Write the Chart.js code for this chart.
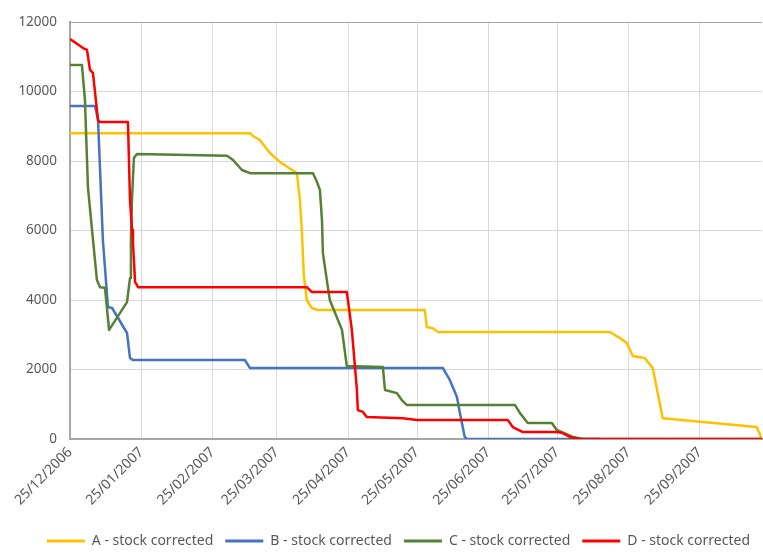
<!DOCTYPE html>
<html>
<head>
<meta charset="utf-8">
<script src="https://cdn.jsdelivr.net/npm/chart.js@4"></script>
<style>
  html, body { margin: 0; padding: 0; background: #ffffff; }
  #wrap { width: 763px; height: 552px; }
</style>
</head>
<body>
<div id="wrap"><canvas id="c" width="763" height="552"></canvas></div>
<script>
// Day offsets are days since 25/12/2006
const tickDays = [0, 31, 62, 90, 121, 151, 182, 212, 243, 274];
const tickLabels = ['25/12/2006', '25/01/2007', '25/02/2007', '25/03/2007', '25/04/2007',
                    '25/05/2007', '25/06/2007', '25/07/2007', '25/08/2007', '25/09/2007'];
const seriesNames = ['A - stock corrected', 'B - stock corrected', 'C - stock corrected', 'D - stock corrected'];

const aDays  = [0, 78.3, 79.6, 82.6, 87, 91.3, 98.7, 100, 100.9, 101.7, 103, 105.2, 107.8, 154.3, 155.2, 157.8, 160, 234.8, 239.1, 242.2, 244.8, 250, 253.5, 257.8, 298.7, 300.9];
const aStock = [8800, 8800, 8720, 8600, 8230, 7970, 7650, 6880, 5930, 4720, 4000, 3770, 3710, 3710, 3220, 3190, 3080, 3080, 2910, 2760, 2390, 2330, 2040, 600, 345, 0];

const bDays  = [0, 10.9, 12.2, 14.3, 16.5, 18.3, 24.8, 26.1, 27.4, 76.1, 78.3, 162.2, 165.2, 168.3, 169.6, 171.7, 172.6, 230.4];
const bStock = [9580, 9580, 9180, 5730, 3800, 3770, 3050, 2330, 2270, 2270, 2040, 2040, 1700, 1210, 750, 60, 0, 0];

const cDays  = [0, 5.2, 6.5, 7.8, 10, 11.7, 13, 15.2, 17, 24.8, 26.1, 26.5, 27, 27.8, 29.1, 68.3, 70.9, 74.8, 78.3, 105.7, 107.4, 108.7, 109.6, 110, 111.7, 113, 118.3, 120.4, 136.1, 137, 142.2, 144.3, 146.5, 193.5, 195.7, 199.1, 209.6, 211.7, 218.7, 223, 300.9];
const cStock = [10760, 10760, 9760, 7250, 5730, 4580, 4370, 4350, 3140, 3940, 4630, 5730, 6960, 8090, 8200, 8150, 8030, 7740, 7650, 7650, 7400, 7170, 6300, 5350, 4580, 4000, 3140, 2100, 2070, 1410, 1320, 1120, 980, 980, 750, 460, 460, 260, 60, 0, 0];

const dDays  = [0, 5.7, 7.4, 8.7, 10, 11.7, 12.2, 13, 25.2, 26.1, 27, 27.4, 28.3, 29.6, 103, 105.2, 120.4, 122.6, 124.8, 125.2, 127.4, 129.1, 144.8, 150.9, 190.4, 192.6, 197, 211.7, 214.3, 217.4, 221.7, 300.9];
const dStock = [11510, 11250, 11200, 10620, 10530, 9470, 9180, 9120, 9120, 6880, 6020, 5640, 4520, 4370, 4370, 4230, 4230, 3140, 1410, 830, 780, 630, 600, 550, 550, 345, 200, 200, 170, 60, 0, 0];

const colors = ['#FFC000', '#4472C4', '#548235', '#FF0000'];

function pts(days, vals) { return days.map((d, i) => ({ x: d, y: vals[i] })); }
const allDays = [aDays, bDays, cDays, dDays];
const allVals = [aStock, bStock, cStock, dStock];

const datasets = seriesNames.map((name, i) => ({
  label: name,
  data: pts(allDays[i], allVals[i]),
  borderColor: colors[i],
  backgroundColor: colors[i],
  borderWidth: 2.5,
  pointRadius: 0,
  tension: 0,
  borderJoinStyle: 'round',
  order: 4 - i
}));

const txt = '#595959';
new Chart(document.getElementById('c'), {
  type: 'line',
  data: { datasets },
  options: {
    responsive: false,
    animation: false,
    events: [],
    layout: { padding: { top: 22, right: 1, left: 0, bottom: -6 } },
    plugins: {
      tooltip: { enabled: false },
      legend: {
        position: 'bottom',
        align: 'end',
        reverse: true,
        labels: {
          color: txt,
          font: { family: 'Noto Sans', size: 14 },
          boxWidth: 38,
          boxHeight: 3,
          padding: 12,
          generateLabels: (chart) => Chart.defaults.plugins.legend.labels.generateLabels(chart)
            .map(l => Object.assign(l, { lineWidth: 0 }))
        }
      }
    },
    scales: {
      x: {
        type: 'linear',
        min: 0,
        max: 301,
        afterBuildTicks: (s) => { s.ticks = tickDays.map(v => ({ value: v })); },
        afterFit: (s) => { s.height = 83; },
        ticks: {
          autoSkip: false,
          minRotation: 45,
          maxRotation: 45,
          padding: 5,
          color: txt,
          font: { family: 'Noto Sans', size: 14 },
          callback: (v) => { const k = tickDays.indexOf(v); return k >= 0 ? tickLabels[k] : ''; }
        },
        grid: { color: '#d9d9d9', drawTicks: false, lineWidth: 1 },
        border: { color: '#a6a6a6', width: 2 }
      },
      y: {
        min: 0,
        max: 12000,
        afterFit: (s) => { s.width = 70; },
        ticks: {
          stepSize: 2000,
          padding: 13,
          color: txt,
          font: { family: 'Noto Sans', size: 13.5 },
          callback: (v) => String(v)
        },
        grid: {
          drawTicks: false,
          color: (ctx) => (ctx.tick && ctx.tick.value === 12000) ? '#a6a6a6' : '#d9d9d9'
        },
        border: { color: '#a6a6a6', width: 2 }
      }
    }
  }
});
</script>
</body>
</html>
